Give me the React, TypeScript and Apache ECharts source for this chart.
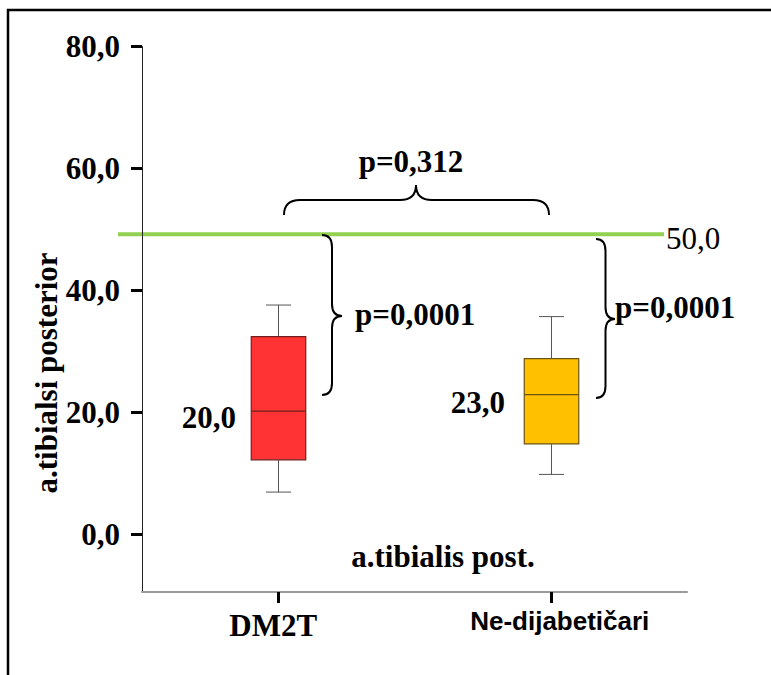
import React, { useEffect, useRef } from 'react';
import * as echarts from 'echarts';

// ---- data ----
const categories = ['DM2T', 'Ne-dijabetičari'];
const boxMin = [6.9, 9.8];
const boxQ1 = [12.2, 14.8];
const boxMedian = [20.2, 22.9];
const boxQ3 = [32.4, 28.8];
const boxMax = [37.6, 35.7];
const yTicks = [0, 20, 40, 60, 80];
const refValue = 49.2;
const refLabel = '50,0';
const medianLabels = ['20,0', '23,0'];
const pTop = 'p=0,312';
const pLeft = 'p=0,0001';
const pRight = 'p=0,0001';
const yName = 'a.tibialsi posterior';
const xTitle = 'a.tibialis post.';

// ---- styles ----
const boxFill = ['#FF3333', '#FFC000'];
const boxStroke = ['#6E2020', '#6B5414'];
const SERIF = '"Liberation Serif", "Times New Roman", serif';
const SANS = '"Liberation Sans", Arial, sans-serif';

const Brace = echarts.graphic.extendShape({
  shape: { x1: 0, y1: 0, x2: 0, y2: 0, mid: 0, depth: 0, r: 10, dir: 'v' },
  buildPath(ctx: any, s: any) {
    const d = s.depth;
    const r = s.r;
    if (s.dir === 'v') {
      const x = s.x1;
      const xm = x + d / 2;
      ctx.moveTo(x, s.y1);
      ctx.quadraticCurveTo(xm, s.y1, xm, s.y1 + r);
      ctx.lineTo(xm, s.mid - r);
      ctx.quadraticCurveTo(xm, s.mid, x + d, s.mid);
      ctx.quadraticCurveTo(xm, s.mid, xm, s.mid + r);
      ctx.lineTo(xm, s.y2 - r);
      ctx.quadraticCurveTo(xm, s.y2, x, s.y2);
    } else {
      const y = s.y1;
      const ym = y + d / 2;
      ctx.moveTo(s.x1, y);
      ctx.quadraticCurveTo(s.x1, ym, s.x1 + r, ym);
      ctx.lineTo(s.mid - r, ym);
      ctx.quadraticCurveTo(s.mid, ym, s.mid, y + d);
      ctx.quadraticCurveTo(s.mid, ym, s.mid + r, ym);
      ctx.lineTo(s.x2 - r, ym);
      ctx.quadraticCurveTo(s.x2, ym, s.x2, y);
    }
  },
});
echarts.graphic.registerShape('brace', Brace);

const txt = (text: string, x: number, y: number, opts: any = {}) => ({
  type: 'text',
  x,
  y,
  rotation: opts.rotation || 0,
  silent: true,
  style: {
    text,
    fill: '#000',
    fontFamily: opts.fontFamily || SERIF,
    fontWeight: opts.fontWeight || 'bold',
    fontSize: opts.fontSize || 31,
    align: opts.align || 'center',
    textAlign: opts.align || 'center',
    verticalAlign: 'middle',
    textVerticalAlign: 'middle',
  },
});

const braceStyle = { fill: 'none', stroke: '#000', lineWidth: 2 };

export default function App() {
  const ref = useRef<HTMLDivElement>(null);
  useEffect(() => {
    const el = ref.current!;
    const chart = echarts.init(el, null, { renderer: 'svg' });
    const seriesData = categories.map((_, i) => [i, boxMin[i], boxQ1[i], boxMedian[i], boxQ3[i], boxMax[i]]);
    const fmt = (v: number) => v.toFixed(1).replace('.', ',');

    chart.setOption({
      animation: false,
      backgroundColor: '#fff',
      grid: { left: 142, right: 84, top: 46.7, bottom: 83 },
      xAxis: {
        type: 'category',
        data: categories,
        boundaryGap: true,
        axisLine: { show: true, onZero: false, lineStyle: { color: '#9a9a9a', width: 2 } },
        axisTick: { show: true, interval: 0, inside: false, alignWithLabel: true, length: 11, lineStyle: { color: '#000', width: 3 } },
        axisLabel: {
          interval: 0,
          margin: 18,
          formatter: (v: string, i: number) => (i === 0 ? `{a|${v}}` : `{b|${v}}`),
          rich: {
            a: { fontFamily: SERIF, fontWeight: 'bold', fontSize: 31, color: '#000', padding: [0, 10, 0, 0] },
            b: { fontFamily: SANS, fontWeight: 'bold', fontSize: 26, color: '#000', lineHeight: 22, padding: [0, 0, 0, 18] },
          },
        },
      },
      yAxis: {
        type: 'value',
        min: -9.5,
        max: 80,
        splitLine: { show: false },
        axisLine: { show: true, onZero: false, lineStyle: { color: '#222', width: 1 } },
        axisTick: { show: true, customValues: yTicks, length: 11, lineStyle: { color: '#000', width: 3 } },
        axisLabel: {
          customValues: yTicks,
          formatter: fmt,
          margin: 22,
          fontFamily: SERIF,
          fontWeight: 'bold',
          fontSize: 31,
          color: '#000',
        },
      },
      series: [
        {
          type: 'custom',
          data: seriesData,
          encode: { x: 0, y: [1, 2, 3, 4, 5] },
          renderItem: (params: any, api: any) => {
            const i = params.dataIndex;
            const x = api.value(0);
            const lo = api.coord([x, api.value(1)]);
            const q1 = api.coord([x, api.value(2)]);
            const med = api.coord([x, api.value(3)]);
            const q3 = api.coord([x, api.value(4)]);
            const hi = api.coord([x, api.value(5)]);
            const band = api.size([1, 0])[0];
            const bw = band * 0.2;
            const cw = band * 0.092;
            const cx = Math.round(lo[0]) + 0.5;
            const wStyle = { stroke: '#555', lineWidth: 1 };
            return {
              type: 'group',
              children: [
                { type: 'line', shape: { x1: cx, y1: hi[1], x2: cx, y2: q3[1] }, style: wStyle },
                { type: 'line', shape: { x1: cx, y1: q1[1], x2: cx, y2: lo[1] }, style: wStyle },
                { type: 'line', shape: { x1: cx - cw / 2, y1: hi[1], x2: cx + cw / 2, y2: hi[1] }, style: wStyle },
                { type: 'line', shape: { x1: cx - cw / 2, y1: lo[1], x2: cx + cw / 2, y2: lo[1] }, style: wStyle },
                {
                  type: 'rect',
                  shape: { x: cx - bw / 2, y: q3[1], width: bw, height: q1[1] - q3[1] },
                  style: { fill: boxFill[i], stroke: boxStroke[i], lineWidth: 1.2 },
                },
                {
                  type: 'line',
                  shape: { x1: cx - bw / 2, y1: med[1], x2: cx + bw / 2, y2: med[1] },
                  style: { stroke: boxStroke[i], lineWidth: 1.3 },
                },
              ],
            };
          },
        },
      ],
    });

    const refY = chart.convertToPixel({ yAxisIndex: 0 }, refValue) as number;

    chart.setOption({
      graphic: [
        {
          type: 'rect',
          silent: true,
          shape: { x: 8, y: 10, width: 1000, height: 1000 },
          style: { fill: 'none', stroke: '#000', lineWidth: 2.5 },
        },
        {
          type: 'line',
          silent: true,
          shape: { x1: 118, y1: refY, x2: 664, y2: refY },
          style: { stroke: '#92D050', lineWidth: 4 },
        },
        txt(refLabel, 666, refY + 4, { fontWeight: 'normal', align: 'left' }),
        {
          type: 'brace',
          silent: true,
          shape: { dir: 'h', x1: 284, x2: 549, y1: 215, mid: 416, depth: -30, r: 16 },
          style: braceStyle,
        },
        {
          type: 'brace',
          silent: true,
          shape: { dir: 'v', x1: 322, y1: 235, y2: 395, mid: 316, depth: 20, r: 12 },
          style: braceStyle,
        },
        {
          type: 'brace',
          silent: true,
          shape: { dir: 'v', x1: 596, y1: 239, y2: 398, mid: 319, depth: 19, r: 12 },
          style: braceStyle,
        },
        txt(pTop, 411, 161),
        txt(pLeft, 355, 314, { align: 'left' }),
        txt(pRight, 615, 307, { align: 'left' }),
        txt(medianLabels[0], 236, 417, { align: 'right' }),
        txt(medianLabels[1], 505, 402, { align: 'right' }),
        txt(xTitle, 443, 556),
        txt(yName, 46, 373, { rotation: Math.PI / 2 }),
      ],
    });

    return () => chart.dispose();
  }, []);
  return (
    <div
      ref={ref}
      style={{ position: 'fixed', left: 0, top: 0, width: 771, height: 675, background: '#fff' }}
    />
  );
}
